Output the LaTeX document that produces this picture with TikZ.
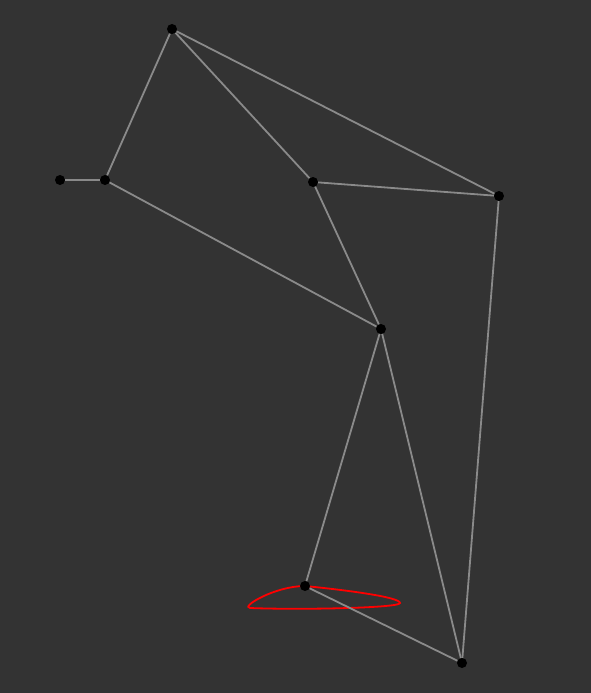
\documentclass[tikz,border=0pt]{standalone}
\usetikzlibrary{backgrounds}
\definecolor{bg}{HTML}{333333}
\definecolor{edgegray}{HTML}{8A8A8A}
\begin{document}
\begin{tikzpicture}[x=1pt,y=-1pt]

      \useasboundingbox (0,0) rectangle (591,693);

      \begin{scope}[every node/.style={circle,fill=black,inner sep=0pt,minimum size=10pt}]
        \node (a) at (172,29)  {};
        \node (b) at (60,180)  {};
        \node (c) at (105,180) {};
        \node (d) at (313,182) {};
        \node (e) at (499,196) {};
        \node (f) at (381,329) {};
        \node (g) at (305,586) {};
        \node (h) at (462,663) {};
      \end{scope}

      \begin{scope}[every edge/.style={draw,edgegray,line width=1.8pt}]
        \path (a) edge (c);
        \path (a) edge (d);
        \path (a) edge (e);
        \path (b) edge (c);
        \path (c) edge (f);
        \path (d) edge (e);
        \path (d) edge (f);
        \path (e) edge (h);
        \path (f) edge (g);
        \path (f) edge (h);
        \path (g) edge (h);
      \end{scope}

      \begin{pgfonlayer}{background}
        \fill[bg] (0,0) rectangle (591,693);
        \draw[red,line width=1.8pt] (g.center) .. controls (345,590) and (400,597) .. (400,603)
          .. controls (400,608) and (300,610) .. (250,608)
          .. controls (240,607) and (275,586) .. (g.center);
      \end{pgfonlayer}

    \end{tikzpicture}
\end{document}
